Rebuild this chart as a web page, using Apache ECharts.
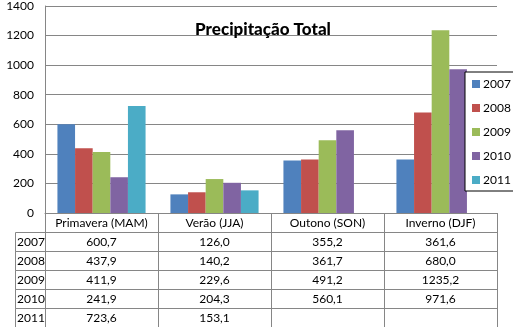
<!DOCTYPE html>
<html><head><meta charset="utf-8">
<script src="https://cdn.jsdelivr.net/npm/echarts@6/dist/echarts.min.js"></script>
<style>html,body{margin:0;padding:0;background:#fff}#c{width:513px;height:327px}</style>
</head><body><div id="c"></div>
<script>
const categories = ['Primavera (MAM)', 'Verão (JJA)', 'Outono (SON)', 'Inverno (DJF)'];
const years = ['2007', '2008', '2009', '2010', '2011'];
const v2007 = [600.7, 126.0, 355.2, 361.6];
const v2008 = [437.9, 140.2, 361.7, 680.0];
const v2009 = [411.9, 229.6, 491.2, 1235.2];
const v2010 = [241.9, 204.3, 560.1, 971.6];
const v2011 = [723.6, 153.1, null, null];
const yTicks = [0, 200, 400, 600, 800, 1000, 1200, 1400];

const values = [v2007, v2008, v2009, v2010, v2011];
const colors = ['#4F81BD', '#C0504D', '#9BBB59', '#8064A2', '#4BACC6'];
const FONT = 'Lato';
const LINE = '#868686';
const fmt = v => (v == null ? '' : v.toFixed(1).replace('.', ','));

const ROW = 19, BASE = 213, LEFT = 45, TABLE_LEFT = 15;

const xAxes = [];
for (let r = 0; r <= years.length; r++) {
  xAxes.push({
    type: 'category', data: categories, position: 'bottom', offset: ROW * r,
    axisLine: { show: true, lineStyle: { color: LINE, width: 1 } },
    axisTick: { show: true, alignWithLabel: false, length: ROW, lineStyle: { color: LINE } },
    axisLabel: {
      show: true, margin: 4, color: '#000', fontFamily: FONT, fontSize: 12, interval: 0,
      formatter: r === 0 ? (v => v) : ((v, i) => fmt(values[r - 1][i]))
    },
    splitLine: { show: false }
  });
}

const graphic = [];
years.forEach((y, i) => {
  graphic.push({
    type: 'rect', shape: { x: TABLE_LEFT + 0.5, y: BASE + ROW * (i + 1) + 0.5, width: LEFT - TABLE_LEFT, height: ROW },
    style: { fill: 'none', stroke: LINE, lineWidth: 1 }, z: 10
  });
  graphic.push({
    type: 'text', x: (TABLE_LEFT + LEFT) / 2 + 1, y: BASE + ROW * (i + 1) + ROW / 2 + 1,
    style: { text: y, fill: '#000', font: '12px ' + FONT, textAlign: 'center', textVerticalAlign: 'middle' }, z: 10
  });
});

const chart = echarts.init(document.getElementById('c'), null, { renderer: 'canvas' });
chart.setOption({
  animation: false,
  backgroundColor: '#fff',
  title: {
    text: 'Precipitação Total', left: 258, top: 16, textAlign: 'center',
    textStyle: { fontFamily: FONT, fontSize: 17, fontWeight: 900, color: '#000' }
  },
  legend: {
    orient: 'vertical', left: 465, top: 72, data: years,
    icon: 'rect', itemWidth: 8, itemHeight: 8, itemGap: 10,
    padding: [5, 30, 4, 7], borderColor: '#000', borderWidth: 1, backgroundColor: '#fff',
    textStyle: { fontFamily: FONT, fontSize: 12, color: '#000', lineHeight: 14, padding: [0, 0, 0, -2] },
    z: 20
  },
  grid: { left: LEFT, right: 16, top: 6, bottom: 327 - BASE, containLabel: false },
  xAxis: xAxes,
  yAxis: {
    type: 'value', min: yTicks[0], max: yTicks[yTicks.length - 1], interval: yTicks[1] - yTicks[0],
    axisLine: { show: true, lineStyle: { color: LINE } },
    axisTick: { show: false },
    axisLabel: { color: '#000', fontFamily: FONT, fontSize: 12, margin: 11, formatter: v => String(v) },
    splitLine: { show: true, lineStyle: { color: LINE, width: 1 } }
  },
  series: years.map((y, i) => ({
    name: y, type: 'bar', data: values[i], xAxisIndex: 0,
    itemStyle: { color: colors[i] }, barGap: '0%', barCategoryGap: '22%'
  })),
  graphic: graphic
});
</script></body></html>
